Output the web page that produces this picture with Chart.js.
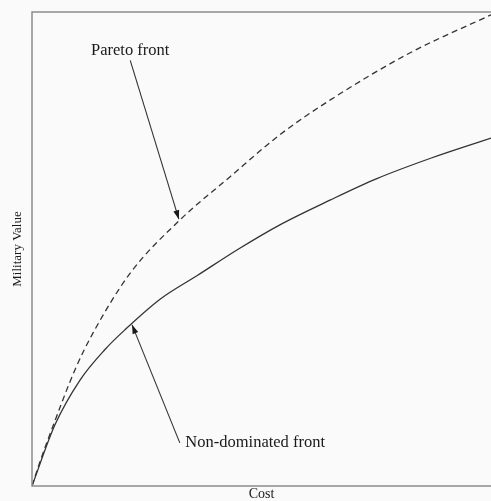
<!DOCTYPE html>
<html>
<head>
<meta charset="utf-8">
<script src="https://cdn.jsdelivr.net/npm/chart.js@4.4.0/dist/chart.umd.min.js"></script>
<style>
    html, body { margin: 0; padding: 0; background: #fafafa; }
    #wrap { width: 491px; height: 501px; }
</style>
</head>
<body>
<div id="wrap"><canvas id="frontChart"></canvas></div>
<script>
// Data (cost vs military value, 0-100 scale)
const paretoCost  = [0, 1.7, 4.4, 9.4, 13.3, 21.4, 32.2, 43.1, 54.0, 64.9, 82.4, 100];
const paretoValue = [0, 5.0, 12.2, 24.6, 32.3, 44.9, 56.1, 65.2, 74.1, 81.4, 91.4, 99.4];

const nondomCost  = [0, 5.0, 10.5, 15.9, 20.3, 27.9, 36.0, 45.0, 54.0, 64.9, 75.0, 87.0, 100];
const nondomValue = [0, 12.9, 22.4, 28.8, 33.0, 39.4, 44.4, 50.0, 55.1, 60.3, 64.8, 69.2, 73.4];

// Annotations: label, text anchor, arrow start, arrow tip (data units)
const notes = [
    { text: "Pareto front", at: [21.4, 91.8], align: "center", from: [21.4, 89.8], to: [32.0, 56.3] },
    { text: "Non-dominated front", at: [33.4, 9.1], align: "left", from: [32.2, 9.1], to: [21.8, 34.0] }
];

function toPoints(xs, ys) {
    return xs.map((x, i) => ({ x: x, y: ys[i] }));
}

const serif = "'Liberation Serif', 'DejaVu Serif', serif";

// frame round the plot + arrows and labels
const decorPlugin = {
    id: "decor",
    afterDatasetsDraw(chart) {
        const ctx = chart.ctx;
        const a = chart.chartArea;
        const xs = chart.scales.x;
        const ys = chart.scales.y;

        ctx.save();
        ctx.strokeStyle = "#8c8c8c";
        ctx.lineWidth = 1.5;
        ctx.strokeRect(a.left, a.top, a.right - a.left + 5, a.bottom - a.top);

        ctx.strokeStyle = "#333";
        ctx.fillStyle = "#1a1a1a";
        ctx.lineWidth = 1.1;
        ctx.font = "16.5px " + serif;
        ctx.textBaseline = "middle";

        notes.forEach(n => {
            const x1 = xs.getPixelForValue(n.from[0]);
            const y1 = ys.getPixelForValue(n.from[1]);
            const x2 = xs.getPixelForValue(n.to[0]);
            const y2 = ys.getPixelForValue(n.to[1]);
            ctx.beginPath();
            ctx.moveTo(x1, y1);
            ctx.lineTo(x2, y2);
            ctx.stroke();

            // arrow head
            const ang = Math.atan2(y2 - y1, x2 - x1);
            const len = 9, half = 3;
            ctx.beginPath();
            ctx.moveTo(x2, y2);
            ctx.lineTo(x2 - len * Math.cos(ang) + half * Math.sin(ang), y2 - len * Math.sin(ang) - half * Math.cos(ang));
            ctx.lineTo(x2 - len * Math.cos(ang) - half * Math.sin(ang), y2 - len * Math.sin(ang) + half * Math.cos(ang));
            ctx.closePath();
            ctx.fill();

            ctx.textAlign = n.align;
            ctx.fillText(n.text, xs.getPixelForValue(n.at[0]), ys.getPixelForValue(n.at[1]));
        });
        ctx.restore();
    }
};

const chart = new Chart(document.getElementById("frontChart"), {
    type: "scatter",
    data: {
        datasets: [
            {
                label: "Pareto front",
                data: toPoints(paretoCost, paretoValue),
                showLine: true,
                borderColor: "#333",
                borderWidth: 1.3,
                borderDash: [6, 4],
                pointRadius: 0,
                cubicInterpolationMode: "monotone"
            },
            {
                label: "Non-dominated front",
                data: toPoints(nondomCost, nondomValue),
                showLine: true,
                borderColor: "#333",
                borderWidth: 1.3,
                pointRadius: 0,
                cubicInterpolationMode: "monotone"
            }
        ]
    },
    options: {
        responsive: true,
        maintainAspectRatio: false,
        animation: false,
        layout: { padding: { top: 12, right: 0, left: 0, bottom: 0 } },
        plugins: {
            legend: { display: false },
            tooltip: { enabled: false }
        },
        scales: {
            x: {
                type: "linear",
                min: 0,
                max: 100,
                grid: { display: false, drawTicks: false },
                border: { display: false },
                ticks: { display: false },
                title: {
                    display: true,
                    text: "Cost",
                    color: "#1a1a1a",
                    font: { family: serif, size: 14, lineHeight: 1 },
                    padding: 0
                },
                afterFit(s) { s.height = 15; }
            },
            y: {
                min: 0,
                max: 100,
                grid: { display: false, drawTicks: false },
                border: { display: false },
                ticks: { display: false },
                title: {
                    display: true,
                    text: "Military Value",
                    color: "#1a1a1a",
                    font: { family: serif, size: 13, lineHeight: 1 },
                    padding: { top: 11, bottom: 0 }
                },
                afterFit(s) { s.width = 32; }
            }
        }
    },
    plugins: [decorPlugin]
});
</script>
</body>
</html>
